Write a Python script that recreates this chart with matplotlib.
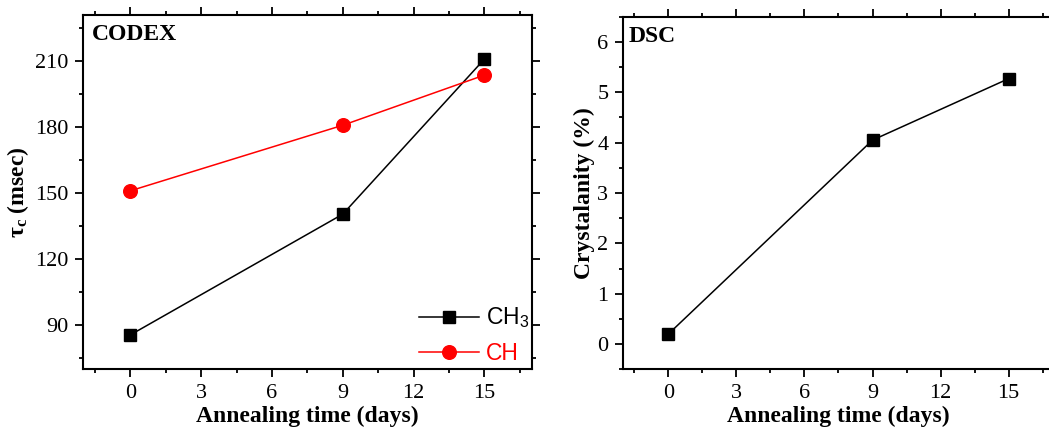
import matplotlib
matplotlib.use("Agg")
import matplotlib.pyplot as plt
from matplotlib.ticker import MultipleLocator

# Annealing series
days = [0, 9, 15]
tau_ch3 = [85.6, 140.5, 211.0]
tau_ch = [151.1, 180.9, 203.7]
crystallinity = [0.2, 4.05, 5.27]

x_ticks = [0, 3, 6, 9, 12, 15]
tau_ticks = [90, 120, 150, 180, 210]
cryst_ticks = [0, 1, 2, 3, 4, 5, 6]

plt.rcParams.update({
    "font.family": "Liberation Serif",
    "mathtext.fontset": "custom",
    "mathtext.rm": "Liberation Serif",
    "mathtext.it": "Liberation Serif:italic",
    "mathtext.bf": "Liberation Serif:bold",
    "mathtext.sf": "Liberation Sans",
    "axes.linewidth": 1.5,
})

W, H = 1049, 428
fig = plt.figure(figsize=(W / 100, H / 100), dpi=100)

ax1 = fig.add_axes([83 / W, 1 - 369.3 / H, (531.7 - 83) / W, (369.3 - 15) / H])
ax2 = fig.add_axes([623 / W, 1 - 369.3 / H, 431 / W, (369.3 - 16.7) / H])


def style(ax):
    ax.tick_params(which="both", direction="out", top=True, right=True,
                   labelsize=16, width=1.3)
    ax.tick_params(which="major", length=5.5, pad=5)
    ax.tick_params(which="minor", length=3)
    ax.set_xlim(-2, 17)
    ax.set_xticks(x_ticks)
    ax.xaxis.set_minor_locator(MultipleLocator(1.5))
    ax.set_xlabel("Annealing time (days)", fontsize=17, fontweight="bold",
                  labelpad=2)


# CODEX panel
ax1.plot(days, tau_ch3, color="black", lw=1.1, marker="s", ms=8.3,
         mec="black", mfc="black", label="CH$_\\mathsf{3}$")
ax1.plot(days, tau_ch, color="red", lw=1.1, marker="o", ms=9.8,
         mec="red", mfc="red", label="CH")
style(ax1)
ax1.set_ylim(70, 231)
ax1.set_yticks(tau_ticks)
ax1.yaxis.set_minor_locator(MultipleLocator(15))
ax1.set_ylabel(r"$\mathbf{\tau_c}$ (msec)", fontsize=17, fontweight="bold",
               labelpad=3)
ax1.text(0.02, 0.975, "CODEX", transform=ax1.transAxes, fontsize=17,
         fontweight="bold", va="top", ha="left")
leg = ax1.legend(loc="lower right", bbox_to_anchor=(1.04, -0.045),
                 frameon=False, handlelength=2.6, handletextpad=0.3,
                 labelspacing=0.5, prop={"family": "Liberation Sans", "size": 16.5})
for txt, line in zip(leg.get_texts(), leg.get_lines()):
    txt.set_color(line.get_color())

# DSC panel
ax2.plot(days, crystallinity, color="black", lw=1.1, marker="s", ms=8.3,
         mec="black", mfc="black")
style(ax2)
ax2.set_ylim(-0.5, 6.5)
ax2.set_yticks(cryst_ticks)
ax2.yaxis.set_minor_locator(MultipleLocator(0.5))
ax2.set_ylabel("Crystalanity (%)", fontsize=17, fontweight="bold", labelpad=2)
ax2.text(0.012, 0.975, "DSC", transform=ax2.transAxes, fontsize=17,
         fontweight="bold", va="top", ha="left")

fig.savefig("out.png", dpi=100)
